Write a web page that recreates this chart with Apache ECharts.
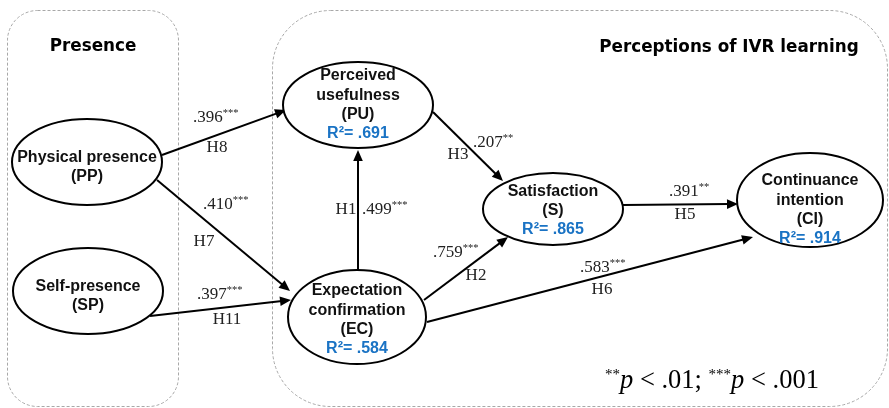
<!DOCTYPE html>
<html><head><meta charset="utf-8">
<script src="https://cdn.jsdelivr.net/npm/echarts@6/dist/echarts.min.js"></script>
<style>html,body{margin:0;padding:0;background:#fff}#c{width:889px;height:408px}</style>
</head><body><div id="c"></div><script>
// ---------- Data ----------
const nodeIds = ['PP', 'SP', 'PU', 'EC', 'S', 'CI'];
const nodeLabels = ['Physical presence\n(PP)', 'Self-presence\n(SP)', 'Perceived\nusefulness\n(PU)',
  'Expectation\nconfirmation\n(EC)', 'Satisfaction\n(S)', 'Continuance\nintention\n(CI)'];
const nodeR2 = [null, null, '.691', '.584', '.865', '.914'];
const pathFrom = ['PP', 'PP', 'SP', 'EC', 'PU', 'EC', 'EC', 'S'];
const pathTo = ['PU', 'EC', 'EC', 'PU', 'S', 'S', 'CI', 'CI'];
const pathHyp = ['H8', 'H7', 'H11', 'H1', 'H3', 'H2', 'H6', 'H5'];
const pathCoef = ['.396', '.410', '.397', '.499', '.207', '.759', '.583', '.391'];
const pathSig = ['***', '***', '***', '***', '**', '***', '***', '**'];
const groupTitles = ['Presence', 'Perceptions of IVR learning'];
const noteParts = [['**', 'p', ' < .01; '], ['***', 'p', ' < .001']];

// ---------- Layout (diagram units) ----------
const nodeCenter = [[87, 162], [88, 291], [358, 105], [357, 317], [553, 209], [810, 200]];
const nodeRadius = [[75, 43], [75, 43], [75, 43], [69, 47], [70, 36], [73, 47]];
const nodeTextDy = [5, 5, 0, 3, 1.5, 10];
const pathStart = [[162, 155], [157, 180], [150, 316], [358, 272], [433, 112], [424, 300], [427, 322], [623, 205]];
const pathEnd = [[286, 110], [290, 291], [291, 300], [358, 150], [503, 181], [508, 237], [753, 237], [738, 204]];
const coefPos = [[193, 118], [203, 205], [197, 295], [362, 210], [473, 143], [433, 253], [580, 268], [669, 192]];
const hypPos = [[217, 148], [204, 242], [227, 320], [346, 210], [458, 155], [476, 276], [602, 290], [685, 215]];
const boxRects = [[7, 10, 178, 406, 30], [272, 10, 887, 406, 58]];
const titlePos = [[93, 47], [729, 48]];
const notePos = [605, 381];

const BLUE = '#1a73c4';
const SANS = '"Liberation Sans", Arial, sans-serif';
const SERIF = '"Liberation Serif", "Times New Roman", serif';

const chart = echarts.init(document.getElementById('c'));

function txt(x, y, text, rich, align, extra) {
  return Object.assign({
    type: 'text', x: x, y: y,
    style: { text: text, rich: rich, align: align, textAlign: align, verticalAlign: 'middle', textVerticalAlign: 'middle' }
  }, extra || {});
}

const option = {
  animation: false,
  grid: { left: 0, right: 0, top: 0, bottom: 0 },
  xAxis: { type: 'value', min: 0, max: 889, show: false },
  yAxis: { type: 'value', min: 0, max: 408, inverse: true, show: false },
  series: [
    { // group boxes
      type: 'custom', coordinateSystem: 'cartesian2d', clip: false, silent: true, z: 1,
      data: boxRects,
      renderItem: function (params, api) {
        const p0 = api.coord([api.value(0), api.value(1)]);
        const p1 = api.coord([api.value(2), api.value(3)]);
        return { type: 'rect',
          shape: { x: p0[0] + 0.5, y: p0[1] + 0.5, width: p1[0] - p0[0], height: p1[1] - p0[1], r: api.value(4) },
          style: { fill: 'none', stroke: '#a8a8a8', lineWidth: 1, lineDash: [3, 2] } };
      }
    },
    { // group titles
      type: 'custom', coordinateSystem: 'cartesian2d', clip: false, silent: true, z: 2,
      data: titlePos,
      renderItem: function (params, api) {
        const p = api.coord([api.value(0), api.value(1)]);
        return txt(p[0], p[1], '{t|' + groupTitles[params.dataIndex] + '}',
          { t: { fontFamily: '"DejaVu Sans", sans-serif', fontWeight: 'bold', fontSize: 16.8, fill: '#000' } }, 'center');
      }
    },
    { // paths (arrows)
      type: 'custom', coordinateSystem: 'cartesian2d', clip: false, silent: true, z: 3,
      data: pathStart.map(function (s, i) { return [s[0], s[1], pathEnd[i][0], pathEnd[i][1]]; }),
      renderItem: function (params, api) {
        const a = api.coord([api.value(0), api.value(1)]);
        const b = api.coord([api.value(2), api.value(3)]);
        const dx = b[0] - a[0], dy = b[1] - a[1], L = Math.hypot(dx, dy);
        const ux = dx / L, uy = dy / L, hl = 11, hw = 4.8;
        const bx = b[0] - ux * hl, by = b[1] - uy * hl;
        return { type: 'group', children: [
          { type: 'line', shape: { x1: a[0], y1: a[1], x2: bx + ux * 2, y2: by + uy * 2 },
            style: { stroke: '#000', lineWidth: 2 } },
          { type: 'polygon', shape: { points: [[b[0], b[1]], [bx - uy * hw, by + ux * hw], [bx + uy * hw, by - ux * hw]] },
            style: { fill: '#000' } }
        ] };
      }
    },
    { // constructs
      type: 'custom', coordinateSystem: 'cartesian2d', clip: false, silent: true, z: 4,
      data: nodeCenter.map(function (c, i) { return [c[0], c[1], nodeRadius[i][0], nodeRadius[i][1]]; }),
      renderItem: function (params, api) {
        const i = params.dataIndex;
        const c = api.coord([api.value(0), api.value(1)]);
        const lines = nodeLabels[i].split('\n').map(function (s) { return '{b|' + s + '}'; });
        if (nodeR2[i]) lines.push('{r|R²= ' + nodeR2[i] + '}');
        return { type: 'group', children: [
          { type: 'ellipse', shape: { cx: c[0], cy: c[1], rx: api.value(2), ry: api.value(3) },
            style: { fill: '#fff', stroke: '#000', lineWidth: 2 } },
          txt(c[0], c[1] + nodeTextDy[i], lines.join('\n'), {
            b: { fontFamily: SANS, fontWeight: 'bold', fontSize: 16, lineHeight: 19.3, fill: '#111' },
            r: { fontFamily: SANS, fontWeight: 'bold', fontSize: 16, lineHeight: 19.3, fill: BLUE }
          }, 'center')
        ] };
      }
    },
    { // path coefficients
      type: 'custom', coordinateSystem: 'cartesian2d', clip: false, silent: true, z: 5,
      data: coefPos,
      renderItem: function (params, api) {
        const i = params.dataIndex;
        const p = api.coord([api.value(0), api.value(1)]);
        return txt(p[0], p[1], '{v|' + pathCoef[i] + '}{s|' + pathSig[i] + '}', {
          v: { fontFamily: SERIF, fontSize: 17, lineHeight: 20, fill: '#222' },
          s: { fontFamily: SERIF, fontSize: 10.5, lineHeight: 10, fill: '#222', verticalAlign: 'top' }
        }, 'left');
      }
    },
    { // hypothesis labels
      type: 'custom', coordinateSystem: 'cartesian2d', clip: false, silent: true, z: 5,
      data: hypPos,
      renderItem: function (params, api) {
        const p = api.coord([api.value(0), api.value(1)]);
        return txt(p[0], p[1], '{h|' + pathHyp[params.dataIndex] + '}',
          { h: { fontFamily: SERIF, fontSize: 17, fill: '#222' } }, 'center');
      }
    },
    { // significance note
      type: 'custom', coordinateSystem: 'cartesian2d', clip: false, silent: true, z: 5,
      data: [notePos],
      renderItem: function (params, api) {
        const p = api.coord([api.value(0), api.value(1)]);
        const s = noteParts.map(function (q) { return '{s|' + q[0] + '}{p|' + q[1] + '}{n|' + q[2] + '}'; }).join('');
        return txt(p[0], p[1], s, {
          s: { fontFamily: SERIF, fontSize: 15, lineHeight: 15, fill: '#000', verticalAlign: 'top' },
          p: { fontFamily: SERIF, fontSize: 26.5, lineHeight: 27, fontStyle: 'italic', fill: '#000' },
          n: { fontFamily: SERIF, fontSize: 26.5, lineHeight: 27, fill: '#000' }
        }, 'left');
      }
    }
  ]
};
chart.setOption(option);
</script></body></html>
